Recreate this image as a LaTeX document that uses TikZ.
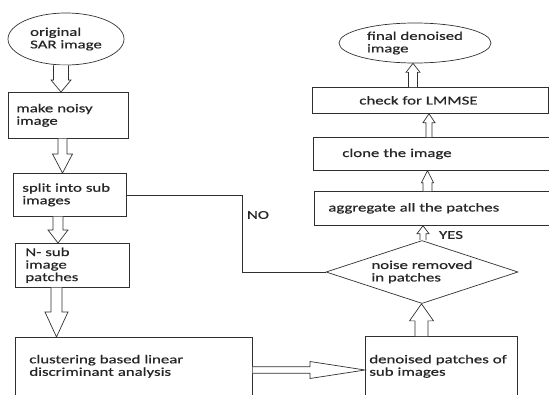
\documentclass[tikz,border=0pt]{standalone}
\usepackage{fontspec}
\setmainfont[FakeStretch=1.4,FakeBold=0.6]{Carlito}
\usetikzlibrary{shapes.geometric,calc}

% hollow block arrows: position, from, to, shaft half width, head half width, head length
\newcommand{\vblk}[6]{%
  \draw[blk] let \p1=(#1,0 |- #2), \p2=(#1,0 |- #3), \n1={sign(\y2-\y1)} in
    (\x1-#4,\y1) -- (\x1-#4,{\y2-\n1*#6}) -- (\x1-#5,{\y2-\n1*#6}) -- (\x1,\y2)
    -- (\x1+#5,{\y2-\n1*#6}) -- (\x1+#4,{\y2-\n1*#6}) -- (\x1+#4,\y1);}
\newcommand{\hblk}[6]{%
  \draw[blk] let \p1=(#2 |- 0,#1), \p2=(#3 |- 0,#1), \n1={sign(\x2-\x1)} in
    (\x1,\y1-#4) -- ({\x2-\n1*#6},\y1-#4) -- ({\x2-\n1*#6},\y1-#5) -- (\x2,\y1)
    -- ({\x2-\n1*#6},\y1+#5) -- ({\x2-\n1*#6},\y1+#4) -- (\x1,\y1+#4);}

\begin{document}
\begin{tikzpicture}[x=1pt,y=-1pt]
    \definecolor{line-color}{HTML}{303030}
    \tikzstyle{every node}=[font=\fontsize{12}{12.5}\selectfont, text=black!85]
    \tikzstyle{stepbox} = [rectangle, draw=line-color, line width=0.7pt, anchor=north west, align=left, inner ysep=2pt]
    \tikzstyle{oval} = [ellipse, draw=line-color, line width=0.7pt, inner sep=0pt, align=left]
    \tikzstyle{blk} = [draw=line-color, fill=white, line width=0.7pt]
    \useasboundingbox (0,0) rectangle (549,394);
    \clip (0,0) rectangle (549,394);
        \node (orig) [oval, minimum width=116pt, minimum height=52pt] at (66,39) {original\\SAR image};
        \node (noisy) [stepbox, inner xsep=8pt, text width=104pt, minimum height=46pt] at (8,92) {make noisy\\image};
        \node (split) [stepbox, inner xsep=9pt, text width=95pt, minimum height=43pt] at (13,173) {split into sub\\images};
        \node (npatch) [stepbox, inner xsep=10pt, text width=94pt, minimum height=44pt] at (15,243) {N- sub\\image\\patches};
        \node (cluster) [stepbox, inner xsep=14pt, text width=209pt, minimum height=58pt] at (15,337) {clustering based linear\\discriminant analysis};
        \node (denoise) [stepbox, inner xsep=4pt, text width=144pt, minimum height=60pt] at (365,336) {denoised patches of\\sub images};
        \node (dec) [diamond, draw=line-color, line width=0.7pt, aspect=3, minimum width=192pt, minimum height=63pt, inner sep=1pt, align=left] at (422,272) {noise removed\\in patches};
        \node (aggr) [stepbox, inner xsep=14pt, text width=250pt, minimum height=34pt] at (314,191) {aggregate all the patches};
        \node (clone) [stepbox, inner xsep=29pt, text width=230pt, minimum height=33pt] at (313,137) {clone the image};
        \node (check) [stepbox, inner xsep=47pt, text width=142pt, minimum height=26pt] at (312,87) {check for LMMSE};
        \node (final) [oval, minimum width=152pt, minimum height=40pt] at (415,43) {final denoised\\image};
        \node (no) at (258,215) {NO};
        \node (yes) at (451,235) {YES};
        \coordinate (noturn) at (242,272);
        \draw[draw=line-color, line width=0.7pt] (split.east) -| (noturn) -- (dec.west);
        % block arrows
        \vblk{61}{orig.south}{noisy.north}{7.5pt}{10pt}{12pt}
        \vblk{62.5}{noisy.south}{split.north}{4.5pt}{10pt}{19pt}
        \vblk{58}{split.south}{npatch.north}{5pt}{10pt}{13pt}
        \vblk{56.5}{npatch.south}{cluster.north}{5.5pt}{11.5pt}{25pt}
        \hblk{370}{cluster.east}{denoise.west}{3.3pt}{8.5pt}{55pt}
        \vblk{421.5}{denoise.north}{dec.south}{6.5pt}{12pt}{17pt}
        \vblk{423}{dec.north}{aggr.south}{3pt}{6pt}{8pt}
        \vblk{427.5}{aggr.north}{clone.south}{4.5pt}{6pt}{12pt}
        \vblk{429}{clone.north}{check.south}{3pt}{6pt}{9pt}
        \vblk{413}{check.north}{final.south}{4.5pt}{7pt}{9pt}
\end{tikzpicture}
\end{document}
